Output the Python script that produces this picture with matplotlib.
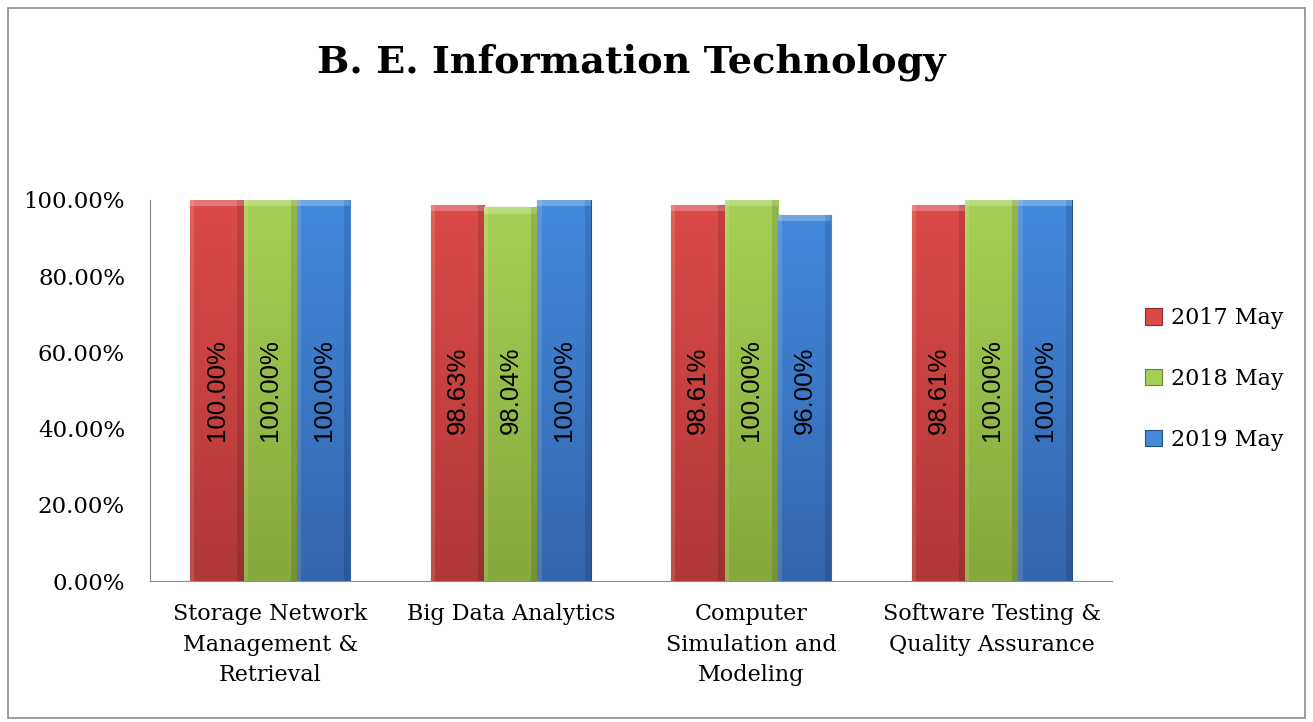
import numpy as np
import matplotlib.pyplot as plt
from matplotlib.patches import Rectangle
from matplotlib.colors import LinearSegmentedColormap

categories = ["Storage Network\nManagement &\nRetrieval", "Big Data Analytics",
              "Computer\nSimulation and\nModeling", "Software Testing &\nQuality Assurance"]
series = ["2017 May", "2018 May", "2019 May"]
may_2017 = [100.00, 98.63, 98.61, 98.61]
may_2018 = [100.00, 98.04, 100.00, 100.00]
may_2019 = [100.00, 100.00, 96.00, 100.00]
values = [may_2017, may_2018, may_2019]

top_cols = ["#dc4a47", "#a6cf55", "#4389dc"]
bot_cols = ["#b03836", "#86a83d", "#3466ad"]
edge_cols = ["#8e2c2a", "#6b8530", "#28507f"]

serif = ["DejaVu Serif"]
fig = plt.figure(figsize=(13.13, 7.22), dpi=100)
ax = fig.add_axes([150 / 1313, 1 - 581 / 722, 962 / 1313, 381 / 722])

# outer frame
fig.patches.append(Rectangle((8 / 1313, 4 / 722), 1297 / 1313, 710 / 722, transform=fig.transFigure,
                             fill=False, edgecolor="#8c8c8c", lw=1.2))

x = np.arange(len(categories))
w = 1 / 4.5
for i, vals in enumerate(values):
    bars = ax.bar(x + (i - 1) * w, vals, w, color=top_cols[i], edgecolor=edge_cols[i], lw=0.8,
                  label=series[i], zorder=2)
    cmap = LinearSegmentedColormap.from_list("g", [top_cols[i], bot_cols[i]])
    grad = np.linspace(0, 1, 100).reshape(-1, 1)
    for b, v in zip(bars, vals):
        bx, bw, bh = b.get_x(), b.get_width(), b.get_height()
        im = ax.imshow(grad, cmap=cmap, aspect="auto", extent=(bx, bx + bw, 0, bh), zorder=2.5)
        im.set_clip_path(b)
        # bevel highlights
        ax.add_patch(Rectangle((bx, bh - 1.6), bw, 1.6, color="white", alpha=0.25, lw=0, zorder=3))
        ax.add_patch(Rectangle((bx + bw * 0.88, 0), bw * 0.12, bh, color="black", alpha=0.12, lw=0, zorder=3))
        ax.add_patch(Rectangle((bx, 0), bw * 0.08, bh, color="white", alpha=0.12, lw=0, zorder=3))
        ax.text(bx + bw / 2, 50, f"{v:.2f}%", rotation=90, ha="center", va="center",
                fontsize=18.5, family=["Liberation Sans"], color="black", zorder=4)

ax.set_xlim(-0.5, 3.5)
ax.set_ylim(0, 100)
ax.set_yticks(np.arange(0, 101, 20))
ax.set_yticklabels([f"{t:.2f}%" for t in np.arange(0, 101, 20)], family=serif, fontsize=16.5)
ax.set_xticks(x)
ax.set_xticklabels(categories, family=serif, fontsize=16, linespacing=1.5)
ax.tick_params(axis="y", length=0, pad=18)
ax.tick_params(axis="x", length=0, pad=16)
for s in ["top", "right"]:
    ax.spines[s].set_visible(False)
ax.spines["left"].set_color("#8c8c8c")
ax.spines["bottom"].set_color("#8c8c8c")

fig.text(631 / 1313, 1 - 62 / 722, "B. E. Information Technology", ha="center", va="center",
         family=serif, fontweight="bold", fontsize=27.5)

leg = ax.legend(loc="center left", bbox_to_anchor=(1.014, 0.53), frameon=False,
                prop={"family": serif, "size": 16}, handlelength=0.75, handleheight=0.75,
                handletextpad=0.4, labelspacing=1.75)

fig.savefig("out.png", dpi=100)
